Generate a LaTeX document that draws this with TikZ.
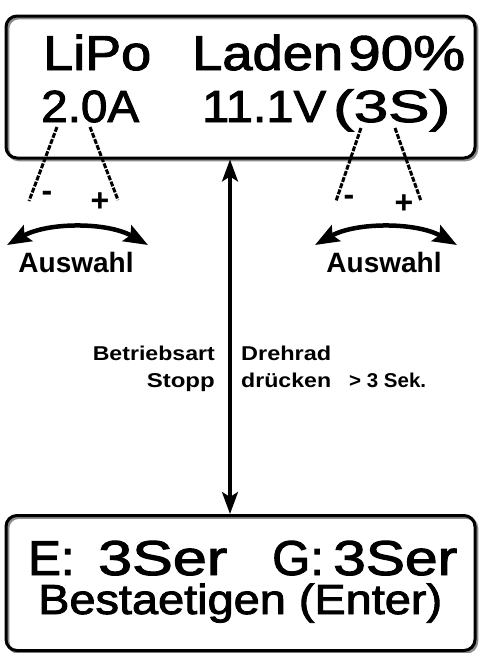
\documentclass[tikz,border=0pt]{standalone}
\usepackage{fontspec}
\usepackage{graphicx}
\setmainfont{Liberation Sans}
\newfontfamily\lcdfont{Liberation Sans}[FakeBold=2]
\newfontfamily\lblfont{Liberation Sans Bold}
\usetikzlibrary{arrows.meta}
\newcommand{\fitw}[2]{\resizebox{#1}{\height}{#2}}
\tikzset{
  screen/.style={draw=black, line width=3pt, rounded corners=11pt,
    preaction={draw=black!45, line width=3pt, transform canvas={shift={(1.8pt,-1.8pt)}}}},
  lcdA/.style={inner sep=0pt, anchor=base west, text depth=0pt, font=\lcdfont\fontsize{49}{49}\selectfont},
  lcdB/.style={inner sep=0pt, anchor=base west, text depth=0pt, font=\lcdfont\fontsize{45}{45}\selectfont},
  lcdC/.style={inner sep=0pt, anchor=base west, text height=30pt, text depth=8pt, font=\lcdfont\fontsize{42}{42}\selectfont},
  small/.style={inner sep=0pt, font=\lblfont\fontsize{20}{20}\selectfont},
  pm/.style={inner sep=0pt, font=\lblfont\fontsize{32}{32}\selectfont},
  auswahl/.style={inner sep=0pt, anchor=base, font=\lblfont\fontsize{28}{28}\selectfont},
  pointer/.style={line width=3pt, dash pattern=on 5pt off 1.5pt},
  turn/.style={line width=4.5pt, {Stealth[length=24pt,width=18pt,inset=4pt]}-{Stealth[length=24pt,width=18pt,inset=4pt]}},
  mode/.style={line width=3.2pt, {Stealth[length=22pt,width=16pt,inset=5pt]}-{Stealth[length=22pt,width=16pt,inset=5pt]}}
}
\begin{document}
\begin{tikzpicture}[x=1pt,y=-1pt]
\useasboundingbox (0,0) rectangle (481,653);
% boxes
\node[screen, minimum width=469pt, minimum height=142pt, inner sep=0pt] (top) at (240.5,87) {};
\node[screen, minimum width=469pt, minimum height=135pt, inner sep=0pt] (bot) at (240.5,583) {};
% top text
\node[lcdA] (t1) at (43,70) {\fitw{108pt}{LiPo}};
\node[lcdA] (t2) at (192,70) {\fitw{151pt}{Laden}};
\node[lcdA] (t3) at (348,70) {\fitw{117pt}{90\%}};
\node[lcdB] (t4) at (41,122) {\fitw{98pt}{2.0A}};
\node[lcdB] (t5) at (202,122) {\fitw{124pt}{11.1V}};
\node[lcdB] (t6) at (333,122) {\fitw{117pt}{(3S)}};
% bottom text
\node[lcdA] (b1) at (28,575) {E:};
\node[lcdA] (b2) at (98,575) {\fitw{129pt}{3Ser}};
\node[lcdA] (b3) at (272,575) {G:};
\node[lcdA] (b4) at (333,575) {\fitw{124pt}{3Ser}};
\node[lcdC] (b5) at (38,614) {\fitw{404pt}{Bestaetigen (Enter)}};
% pointer lines left
\coordinate (lp1) at (57,127);
\coordinate (lp2) at (29,201);
\coordinate (lp3) at (90,127);
\coordinate (lp4) at (118,200);
\draw[pointer] (lp1) -- (lp2);
\draw[pointer] (lp3) -- (lp4);
\node[pm] (lminus) at (47,196) {-};
\node[pm] (lplus) at (100,202) {+};
% pointer lines right
\coordinate (rp1) at (361,128);
\coordinate (rp2) at (336,201);
\coordinate (rp3) at (395,128);
\coordinate (rp4) at (421,201);
\draw[pointer] (rp1) -- (rp2);
\draw[pointer] (rp3) -- (rp4);
\node[pm] (rminus) at (349,200) {-};
\node[pm] (rplus) at (404,204) {+};
% turn arrows
\coordinate (la) at (7,245);
\coordinate (lb) at (148,245);
\draw[turn] (la) .. controls (48,222) and (107,222) .. (lb);
\coordinate (ra) at (315,245);
\coordinate (rb) at (457,245);
\draw[turn] (ra) .. controls (356,222) and (416,222) .. (rb);
\node[auswahl] (lausw) at (76,272) {Auswahl};
\node[auswahl] (rausw) at (384,272) {Auswahl};
% mode arrow
\coordinate (ax) at (230,0);
\draw[mode] (top.south -| ax) -- (bot.north -| ax);
% labels
\node[small, anchor=base east] (l1) at (215,360) {\fitw{122pt}{Betriebsart}};
\node[small, anchor=base east] (l2) at (215,387) {\fitw{68pt}{Stopp}};
\node[small, anchor=base west] (l3) at (241,360) {\fitw{90pt}{Drehrad}};
\node[small, anchor=base west] (l4) at (241,387) {\fitw{90pt}{drücken}};
\node[small, anchor=base west] (l5) at (349,387) {\fitw{77pt}{> 3 Sek.}};
\end{tikzpicture}
\end{document}
